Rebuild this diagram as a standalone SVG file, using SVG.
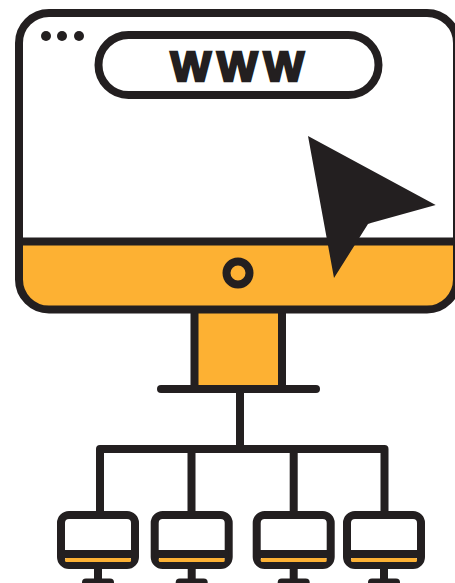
<svg xmlns="http://www.w3.org/2000/svg" width="455" height="583" viewBox="0 0 455 583">
<style>
.s{fill:none;stroke:#231f20;stroke-width:8;stroke-linecap:round}
.b{stroke-linecap:butt}
.o{fill:#fdb133}
.k{fill:#231f20}
</style>
<defs>
<g id="mini">
<rect class="s" x="4" y="4" width="74" height="50" rx="8"/>
<path class="s b" d="M4 43H78"/>
<rect class="o" x="8" y="47" width="66" height="4" rx="1.500"/>
<path class="s b" d="M41 54V72"/>
<path class="s" d="M29 71.500H53"/>
</g>
</defs>
<rect width="455" height="583" fill="#fff"/>
<g id="stand">
<rect class="o" x="194" y="306" width="88" height="83"/>
<path class="s b" d="M194.500 309V389M282 309V389"/>
<path class="s" d="M161 389H316"/>
</g>
<g id="connectors">
<path class="s b" style="stroke-linejoin:round" d="M240 389V449M100 511V449H384.500V511M191.500 449V511M293.700 449V511"/>
</g>
<g id="monitor">
<path class="o" d="M19 241H457V279.500A30 30 0 0 1 427 309.500H49A30 30 0 0 1 19 279.500Z"/>
<rect class="s" x="19" y="13" width="438" height="296.500" rx="30"/>
<path class="s b" d="M19 241.500H457"/>
<circle class="k" cx="46" cy="36" r="5"/>
<circle class="k" cx="62" cy="36" r="5"/>
<circle class="k" cx="79" cy="36" r="5"/>
<rect class="s" x="98.500" y="35" width="280" height="60" rx="30"/>
<text x="170.500 217 263.500" y="80.500" font-family="'Liberation Sans',Arial,sans-serif" font-weight="700" font-size="43" fill="#231f20" stroke="#231f20" stroke-width="2.500">WWW</text>
<circle cx="238" cy="273" r="11.500" fill="#fdb133" stroke="#231f20" stroke-width="8"/>
<polygon class="k" points="308,136 435.700,205 371.700,222.700 368,224 334,278"/>
</g>
<g id="node1"><use href="#mini" x="57" y="511"/></g>
<g id="node2"><use href="#mini" x="150.700" y="511"/></g>
<g id="node3"><use href="#mini" x="252.700" y="511"/></g>
<g id="node4"><use href="#mini" x="343" y="511"/></g>
</svg>
